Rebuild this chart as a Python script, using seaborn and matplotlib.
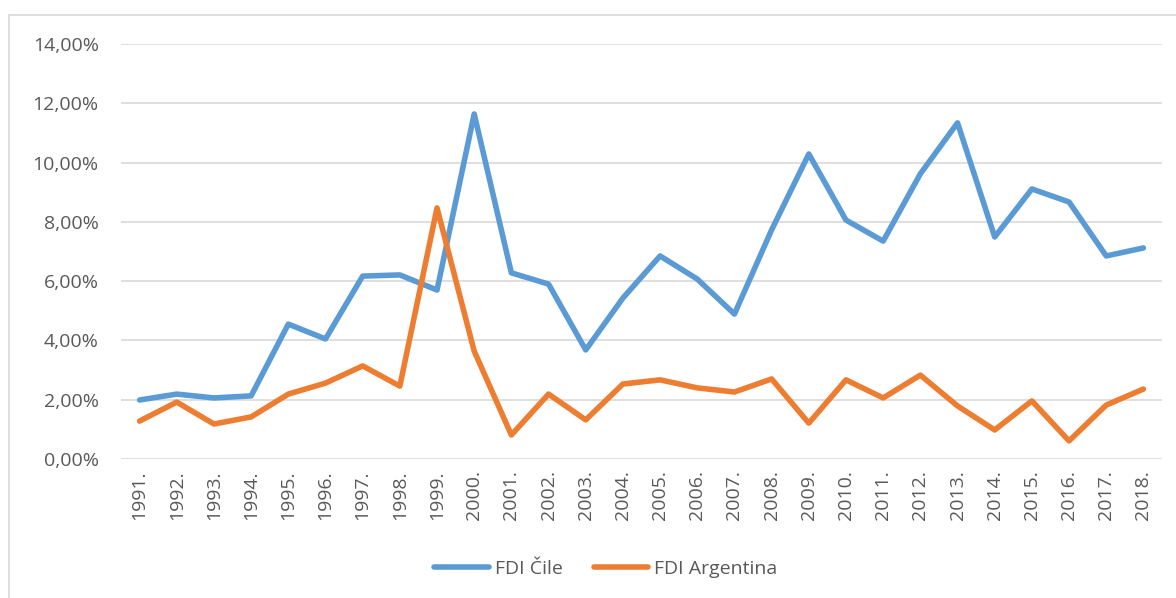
import pandas as pd
import seaborn as sns
import matplotlib.pyplot as plt
from matplotlib.ticker import FuncFormatter, MultipleLocator
from matplotlib.lines import Line2D

years = [f"{y}." for y in range(1991, 2019)]
fdi_cile = [1.99, 2.19, 2.06, 2.13, 4.55, 4.05, 6.17, 6.21, 5.70, 11.64,
            6.28, 5.90, 3.68, 5.43, 6.85, 6.07, 4.89, 7.73, 10.29, 8.06,
            7.35, 9.62, 11.34, 7.49, 9.11, 8.67, 6.85, 7.12]
fdi_argentina = [1.28, 1.92, 1.18, 1.42, 2.19, 2.56, 3.14, 2.46, 8.47, 3.64,
                 0.81, 2.19, 1.32, 2.53, 2.67, 2.40, 2.26, 2.70, 1.21, 2.67,
                 2.06, 2.83, 1.79, 0.98, 1.96, 0.61, 1.82, 2.36]
series_names = ["FDI Čile", "FDI Argentina"]

df = pd.DataFrame({"year": years, series_names[0]: fdi_cile, series_names[1]: fdi_argentina})
long = df.melt(id_vars="year", var_name="serija", value_name="fdi")
long["pos"] = long["year"].map({y: i for i, y in enumerate(years)})

sns.set_style("white")
plt.rcParams["font.family"] = ["Open Sans", "DejaVu Sans"]
text_col = "#595959"
palette = {series_names[0]: "#5B9BD5", series_names[1]: "#ED7D31"}

fig = plt.figure(figsize=(11.76, 5.98), dpi=100)
ax = fig.add_axes([121 / 1176, 1 - 459 / 598, (1162 - 121) / 1176, (459 - 44) / 598])

sns.lineplot(data=long, x="pos", y="fdi", hue="serija", palette=palette,
             linewidth=4, legend=False, ax=ax, solid_capstyle="round", solid_joinstyle="round")

ax.set_xlim(-0.5, len(years) - 0.5)
ax.set_ylim(0, 14)
ax.yaxis.set_major_locator(MultipleLocator(2))
ax.yaxis.set_major_formatter(FuncFormatter(lambda v, p: f"{v:.2f}%".replace(".", ",")))
ax.set_xticks(range(len(years)))
ax.set_xticklabels(years, rotation=90)
ax.grid(axis="y", color="#D9D9D9", linewidth=1.2)
ax.set_axisbelow(True)
for s in ax.spines.values():
    s.set_visible(False)
ax.tick_params(axis="both", length=0, labelsize=14, colors=text_col)
ax.tick_params(axis="y", pad=16)
ax.tick_params(axis="x", pad=8)
ax.set_xlabel("")
ax.set_ylabel("")

handles = [Line2D([0], [0], color=palette[n], linewidth=4, solid_capstyle="round") for n in series_names]
fig.legend(handles, series_names, loc="center", bbox_to_anchor=(0.515, 1 - 569 / 598), ncol=2,
           frameon=False, fontsize=14, labelcolor=text_col, handlelength=2.8,
           handletextpad=0.3, columnspacing=1.6)

# chart frame
fig.add_artist(Line2D([9 / 1176, 9 / 1176], [0, 1 - 15 / 598], color="#D9D9D9", linewidth=1.2))
fig.add_artist(Line2D([9 / 1176, 1], [1 - 15 / 598, 1 - 15 / 598], color="#D9D9D9", linewidth=1.2))

fig.savefig("out.png", dpi=100)
